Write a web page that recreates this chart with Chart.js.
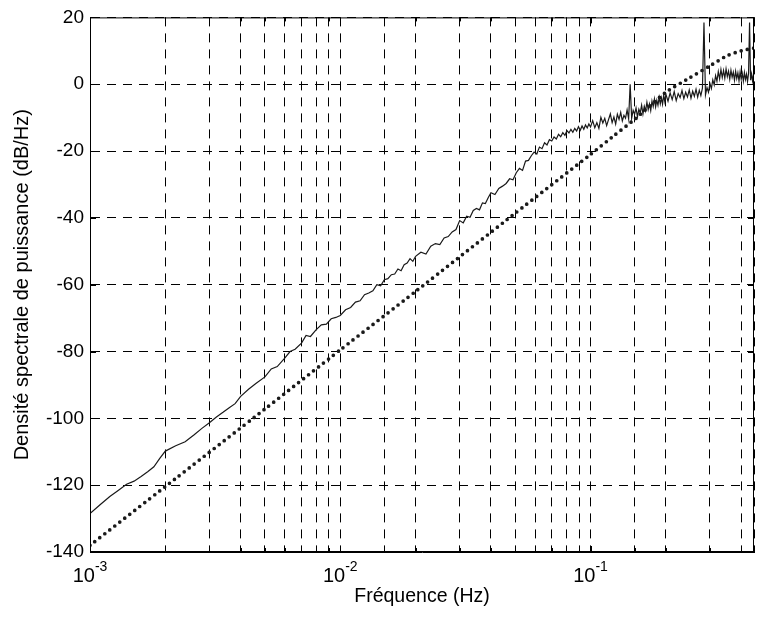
<!DOCTYPE html>
<html>
<head>
<meta charset="utf-8">
<script src="https://cdn.jsdelivr.net/npm/chart.js@4.4.0/dist/chart.umd.min.js"></script>
<style>
  html, body { margin: 0; padding: 0; background: #fff; }
  canvas { display: block; }
</style>
</head>
<body>
<canvas id="psdChart" width="757" height="621"></canvas>
<script>
const measFreq = [
  0.001, 0.0011, 0.0012, 0.0013, 0.0014, 0.0015, 0.0016, 0.0017, 0.0018, 0.0019,
  0.002, 0.0022, 0.0024, 0.0026, 0.0028, 0.003, 0.0032, 0.0034, 0.0036, 0.0038,
  0.004, 0.0043, 0.0046, 0.005, 0.0053, 0.0056, 0.006, 0.0063, 0.0066, 0.007,
  0.0073, 0.0076, 0.008, 0.0084, 0.0088, 0.0092, 0.0096, 0.01,
  0.0105, 0.011, 0.0115, 0.012, 0.0125, 0.013, 0.0135, 0.014, 0.0145, 0.015,
  0.0155, 0.016, 0.0165, 0.017, 0.0175, 0.018, 0.0185, 0.019, 0.0195, 0.02,
  0.021, 0.022, 0.023, 0.024, 0.025, 0.026, 0.027, 0.028, 0.029, 0.03,
  0.031, 0.032, 0.033, 0.034, 0.035, 0.036, 0.037, 0.038, 0.039, 0.04,
  0.0415, 0.043, 0.0445, 0.046, 0.0475, 0.049, 0.0505, 0.052, 0.0535, 0.055,
  0.0565, 0.058, 0.0595, 0.061, 0.0625, 0.064, 0.0655, 0.067, 0.0685, 0.07,
  0.0715, 0.073, 0.0745, 0.076, 0.0775, 0.079, 0.0805, 0.082, 0.0835, 0.085,
  0.0865, 0.088, 0.0895, 0.091, 0.0925, 0.094, 0.0955, 0.097, 0.0985, 0.1,
  0.102, 0.104, 0.106, 0.108, 0.11, 0.112, 0.114, 0.116, 0.118, 0.12,
  0.122, 0.124, 0.126, 0.128, 0.13, 0.132, 0.134, 0.136, 0.138, 0.14,
  0.142, 0.144, 0.146, 0.148, 0.15, 0.152, 0.154, 0.156, 0.158, 0.16,
  0.162, 0.164, 0.166, 0.168, 0.17, 0.172, 0.174, 0.176, 0.178, 0.18,
  0.182, 0.184, 0.186, 0.188, 0.19, 0.192, 0.194, 0.196, 0.198, 0.2,
  0.204, 0.208, 0.212, 0.216, 0.22, 0.224, 0.228, 0.232, 0.236, 0.24,
  0.244, 0.248, 0.252, 0.256, 0.26, 0.264, 0.268, 0.272, 0.276, 0.28,
  0.284, 0.288, 0.292, 0.296, 0.3, 0.304, 0.308, 0.312, 0.316, 0.32,
  0.324, 0.328, 0.332, 0.336, 0.34, 0.344, 0.348, 0.352, 0.356, 0.36,
  0.364, 0.368, 0.372, 0.376, 0.38, 0.384, 0.388, 0.392, 0.396, 0.4,
  0.404, 0.408, 0.412, 0.416, 0.42, 0.424, 0.428, 0.432, 0.436, 0.44,
  0.444, 0.448, 0.45
];
const measDb = [
  -128.5, -125.8, -123.4, -121.5, -119.7, -118.8, -117.4, -116, -114.5, -112,
  -109.8, -108.2, -107, -105, -103, -101.3, -99.6, -98.2, -96.8, -95.6,
  -93.4, -91.3, -89.6, -87.6, -85.2, -84.5, -82, -80, -79.3, -77.5,
  -75.2, -75.5, -73.5, -72, -71.8, -70.2, -69.8, -69.2,
  -67.5, -66.8, -65.2, -64.8, -63, -62.5, -61.8, -60, -60.3, -58.5,
  -58.2, -57, -56.8, -55.3, -55.8, -54, -53.5, -52.2, -53, -51.5,
  -50.3, -50.8, -48.5, -47.7, -48, -46, -45.6, -44.2, -43.5, -40.8,
  -41.5, -39.5, -39.8, -37.8, -37.2, -37.6, -35.5, -35.7, -34, -32.5,
  -33, -31.2, -30.5, -29.7, -28.3, -28.6, -26.5, -25.2, -25.8, -23,
  -22.8, -21.4, -20.3, -20.9, -18.8, -19.3, -17.5, -18.2, -16.6, -17,
  -15.8, -16.4, -15, -15.7, -14.5, -15.3, -13.9, -14.6, -13.5, -14.4,
  -13.2, -14, -12.7, -13.8, -12.5, -13.5, -12.2, -13.1, -11.9, -12.8,
  -10.9, -13.0, -11.5, -13.2, -9.9, -11.6, -10.2, -12.4, -10.6, -8.9,
  -11.5, -9.8, -11.9, -9.0, -10.5, -8.4, -11.0, -9.3, -10.2, -7.7,
  -10.4, 0.0, -10.2, -7.8, -9.0, -7.1, -9.8, -7.5, -8.6, -6.3,
  -8.9, -6.6, -8.0, -5.4, -7.6, -5.9, -7.9, -5.0, -6.7, -4.4,
  -6.8, -4.8, -6.3, -3.9, -5.9, -4.1, -6.0, -3.3, -5.2, -3.0,
  -5.1, -2.6, -4.6, -2.2, -4.9, -2.8, -4.0, -1.9, -4.3, -2.4,
  -3.8, -1.7, -4.2, -2.1, -3.6, -1.5, -3.9, -1.8, -3.4, -1.2,
  18.5, -3.2, -1.0, -2.4, 0.2, -1.3, 1.3, -0.2, 2.6, 0.9,
  3.8, 1.6, 4.4, 2.0, 4.1, 1.8, 4.6, 2.3, 3.9, 1.5,
  4.2, 2.1, 3.6, 1.2, 3.9, 1.7, 3.4, 1.0, 3.7, 1.5,
  3.2, 0.9, 3.5, 1.4, 3.0, 0.8, 3.3, 18.5, 1.2, 3.1,
  1.0, 2.8, 1.6
];

// fitted model (dotted)
const modelFreq = [0.001, 0.002, 0.005, 0.01, 0.02, 0.05, 0.1, 0.125, 0.15, 0.2, 0.25, 0.3, 0.35, 0.4, 0.45];
const modelDb = [-138, -120.4, -97.2, -79.5, -62, -38.6, -21, -15.2, -10.5, -2.4, 2, 5.5, 8.5, 10, 10.8];

const decadeTicks = [0.001, 0.01, 0.1];
const decadeExp = ['-3', '-2', '-1'];
const yTicks = [-140, -120, -100, -80, -60, -40, -20, 0, 20];

const fontFamily = '"Liberation Sans", Arial, Helvetica, sans-serif';

const framePlugin = {
  id: 'frame',
  afterDraw(chart) {
    const ctx = chart.ctx;
    const a = chart.chartArea;
    const xs = chart.scales.x;
    const ys = chart.scales.y;
    ctx.save();
    ctx.setLineDash([]);
    ctx.strokeStyle = '#000';
    ctx.lineWidth = 1;
    ctx.strokeRect(a.left + 0.5, a.top + 0.5, a.right - a.left - 1, a.bottom - a.top - 1);

    // short inward tick marks, matlab style
    ctx.beginPath();
    xs.ticks.forEach(t => {
      const px = Math.round(xs.getPixelForValue(t.value)) + 0.5;
      const len = decadeTicks.includes(t.value) ? 6 : 4;
      ctx.moveTo(px, a.bottom); ctx.lineTo(px, a.bottom - len);
      ctx.moveTo(px, a.top); ctx.lineTo(px, a.top + len);
    });
    ys.ticks.forEach(t => {
      const py = Math.round(ys.getPixelForValue(t.value)) + 0.5;
      ctx.moveTo(a.left, py); ctx.lineTo(a.left + 6, py);
      ctx.moveTo(a.right, py); ctx.lineTo(a.right - 6, py);
    });
    ctx.stroke();

    // decade labels as 10 with a raised exponent
    ctx.fillStyle = '#000';
    ctx.textBaseline = 'alphabetic';
    ctx.textAlign = 'left';
    decadeTicks.forEach((v, i) => {
      const px = xs.getPixelForValue(v);
      ctx.font = '20px ' + fontFamily;
      const baseW = ctx.measureText('10').width;
      ctx.font = '14px ' + fontFamily;
      const expW = ctx.measureText(decadeExp[i]).width;
      const left = px - (baseW + expW) / 2;
      ctx.font = '20px ' + fontFamily;
      ctx.fillText('10', left, 582);
      ctx.font = '14px ' + fontFamily;
      ctx.fillText(decadeExp[i], left + baseW, 571);
    });
    ctx.restore();
  }
};

const ctx = document.getElementById('psdChart').getContext('2d');
new Chart(ctx, {
  type: 'line',
  data: {
    datasets: [{
      label: 'Mesure',
      data: measFreq.map((f, i) => ({ x: f, y: measDb[i] })),
      borderColor: '#1a1a1a',
      borderWidth: 1.2,
      pointRadius: 0,
      tension: 0
    }, {
      label: 'Modèle',
      data: modelFreq.map((f, i) => ({ x: f, y: modelDb[i] })),
      borderColor: '#1a1a1a',
      borderWidth: 3.7,
      borderDash: [0, 6.3],
      borderCapStyle: 'round',
      pointRadius: 0,
      tension: 0.2
    }]
  },
  options: {
    responsive: false,
    animation: false,
    devicePixelRatio: 1,
    layout: { padding: { top: 15, right: 3, left: 0, bottom: 0 } },
    plugins: {
      legend: { display: false },
      tooltip: { enabled: false }
    },
    scales: {
      x: {
        type: 'logarithmic',
        min: 0.001,
        max: 0.45,
        afterFit: (scale) => { scale.height = 69; },
        ticks: { display: false },
        grid: { color: '#000', lineWidth: 1, drawTicks: false },
        border: { display: true, color: '#000', dash: [9, 7] },
        title: {
          display: true,
          text: 'Fréquence (Hz)',
          color: '#000',
          font: { family: fontFamily, size: 19.5 },
          padding: { top: 0, bottom: 13 }
        }
      },
      y: {
        min: -140,
        max: 20,
        afterFit: (scale) => { scale.width = 90; },
        afterBuildTicks: (scale) => { scale.ticks = yTicks.map(v => ({ value: v })); },
        ticks: {
          color: '#000',
          padding: 6,
          font: { family: fontFamily, size: 19 }
        },
        grid: { color: '#000', lineWidth: 1, drawTicks: false },
        border: { display: true, color: '#000', dash: [9, 7] },
        title: {
          display: true,
          text: 'Densité spectrale de puissance (dB/Hz)',
          color: '#000',
          font: { family: fontFamily, size: 20 },
          padding: { top: 10, bottom: 0 }
        }
      }
    }
  },
  plugins: [framePlugin]
});
</script>
</body>
</html>
